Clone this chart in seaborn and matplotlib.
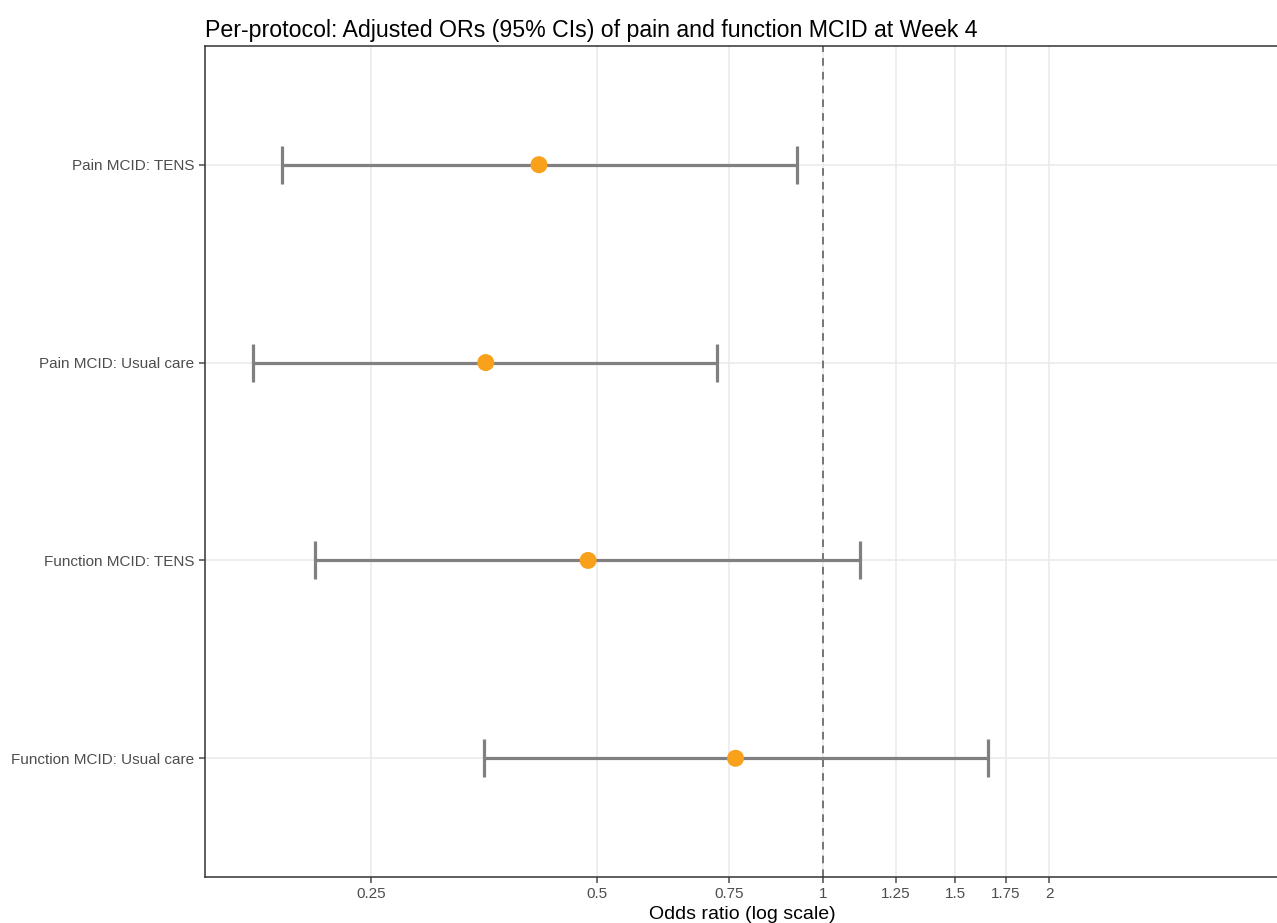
"""Forest plot: adjusted ORs (95% CIs) for pain and function MCID at week 4."""

import matplotlib
matplotlib.use("Agg")

import matplotlib.pyplot as plt
import numpy as np
import pandas as pd
import seaborn as sns
from matplotlib.ticker import FixedLocator, FixedFormatter, NullLocator


labels = [
    "Pain MCID: TENS",
    "Pain MCID: Usual care",
    "Function MCID: TENS",
    "Function MCID: Usual care",
]
odds_ratio = [0.418, 0.355, 0.486, 0.764]
ci_low = [0.190, 0.174, 0.210, 0.353]
ci_high = [0.923, 0.722, 1.120, 1.659]

x_ticks = [0.25, 0.5, 0.75, 1, 1.25, 1.5, 1.75, 2]
x_tick_labels = ["0.25", "0.5", "0.75", "1", "1.25", "1.5", "1.75", "2"]

df = pd.DataFrame({"label": labels, "or": odds_ratio, "lo": ci_low, "hi": ci_high})
df["pos"] = np.arange(len(df))[::-1]

sns.set_theme(style="white")
plt.rcParams["font.family"] = ["Liberation Sans", "DejaVu Sans"]

fig = plt.figure(figsize=(12.77, 9.23), dpi=100)
ax = fig.add_axes([205 / 1277, 46 / 923, 1074 / 1277, 831 / 923])

ax.set_xscale("log")
for t in x_ticks:
    ax.axvline(t, color="#EBEBEB", lw=1.2, zorder=0)
for p in df["pos"]:
    ax.axhline(p, color="#EBEBEB", lw=1.2, zorder=0)

ax.axvline(1, color="#555555", lw=1.1, ls=(0, (5, 4)), zorder=1)

ax.errorbar(
    df["or"], df["pos"],
    xerr=[df["or"] - df["lo"], df["hi"] - df["or"]],
    fmt="none", ecolor="#808080", elinewidth=2.3, capsize=14, capthick=2.3, zorder=2,
)
sns.scatterplot(data=df, x="or", y="pos", color="#F9A11B", s=150,
                edgecolor="none", ax=ax, zorder=3, legend=False)

ax.set_xlim(0.150, 4.05)
ax.set_ylim(-0.6, len(df) - 0.4)
ax.xaxis.set_major_locator(FixedLocator(x_ticks))
ax.xaxis.set_major_formatter(FixedFormatter(x_tick_labels))
ax.xaxis.set_minor_locator(NullLocator())
ax.set_yticks(df["pos"])
ax.set_yticklabels(df["label"])

ax.tick_params(axis="both", labelsize=11, colors="#4D4D4D", length=4, width=1.1,
               labelcolor="#4D4D4D", direction="out", bottom=True, left=True)
for side in ["left", "bottom", "top"]:
    ax.spines[side].set_color("#333333")
    ax.spines[side].set_linewidth(1.1)
ax.spines["right"].set_visible(False)

ax.set_xlabel("Odds ratio (log scale)", fontsize=14, color="black", labelpad=3)
ax.set_ylabel("")
fig.text(205 / 1277, 1 - 37 / 923,
         "Per-protocol: Adjusted ORs (95% CIs) of pain and function MCID at Week 4",
         fontsize=16.7, color="black", ha="left", va="baseline")

fig.savefig("out.png", dpi=100)
